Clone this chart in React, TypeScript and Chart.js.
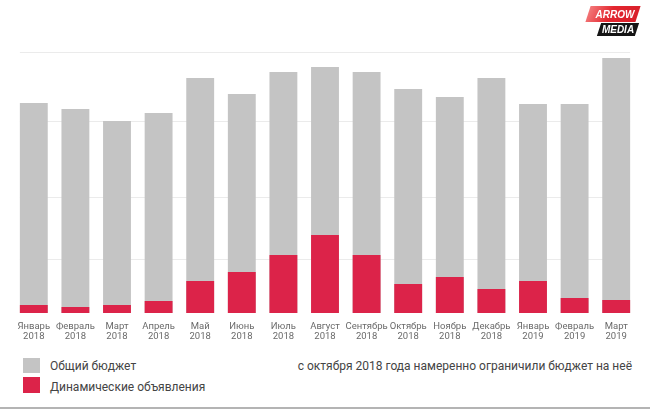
import React, { useEffect, useRef } from "react";
import { Chart, registerables } from "chart.js";

Chart.register(...registerables);

const months = [
  "Январь", "Февраль", "Март", "Апрель", "Май", "Июнь", "Июль", "Август",
  "Сентябрь", "Октябрь", "Ноябрь", "Декабрь", "Январь", "Февраль", "Март",
];
const years = [
  "2018", "2018", "2018", "2018", "2018", "2018", "2018", "2018",
  "2018", "2018", "2018", "2018", "2019", "2019", "2019",
];
const totalBudget = [210, 204, 192, 200, 235, 219, 241, 246, 241, 224, 216, 235, 209, 209, 255];
const dynamicAds = [8, 6, 8, 12, 32, 41, 58, 78, 58, 29, 36, 24, 32, 15, 13];
const gridValues = [54, 116, 192, 261];

const seriesNames = ["Общий бюджет", "Динамические объявления"];
const note = "с октября 2018 года намеренно ограничили бюджет на неё";

const GRAY = "#c4c4c4";
const RED = "#dc2349";
const FONT = "Roboto, 'Open Sans', sans-serif";

const gridPlugin = {
  id: "bgGrid",
  beforeDatasetsDraw(chart: any) {
    const { ctx } = chart;
    const y = chart.scales.y;
    const meta = chart.getDatasetMeta(0);
    const first = meta.data[0] as any;
    const last = meta.data[meta.data.length - 1] as any;
    const left = first.x - first.width / 2;
    const right = last.x + last.width / 2;
    ctx.save();
    ctx.strokeStyle = "#ebebeb";
    ctx.lineWidth = 1;
    gridValues.forEach((v) => {
      const py = Math.round(y.getPixelForValue(v)) + 0.5;
      ctx.beginPath();
      ctx.moveTo(left, py);
      ctx.lineTo(right, py);
      ctx.stroke();
    });
    ctx.restore();
  },
};

export default function App() {
  const ref = useRef<HTMLCanvasElement>(null);

  useEffect(() => {
    const labels = months.map((m, i) => [m, years[i]]);
    const chart = new Chart(ref.current!, {
      type: "bar",
      data: {
        labels,
        datasets: [
          {
            label: seriesNames[0],
            data: totalBudget,
            backgroundColor: GRAY,
            grouped: false,
            order: 2,
            barPercentage: 0.67,
            categoryPercentage: 1,
          } as any,
          {
            label: seriesNames[1],
            data: dynamicAds,
            backgroundColor: RED,
            grouped: false,
            order: 1,
            barPercentage: 0.67,
            categoryPercentage: 1,
          } as any,
        ],
      },
      options: {
        responsive: false,
        animation: false,
        layout: { padding: { left: 13, right: 13, top: 52, bottom: 0 } },
        plugins: { legend: { display: false }, tooltip: { enabled: false } },
        scales: {
          x: {
            grid: { display: false, drawTicks: false },
            border: { display: false },
            ticks: {
              color: "#6a6a6a",
              font: { family: FONT, size: 9.5, lineHeight: 1.1 },
              padding: 8,
              maxRotation: 0,
              autoSkip: false,
            },
            afterFit(scale: any) {
              scale.height = 37;
            },
          },
          y: {
            display: false,
            min: 0,
            max: 261,
          },
        },
      },
      plugins: [gridPlugin],
    });
    return () => chart.destroy();
  }, []);

  const legendText: React.CSSProperties = {
    position: "absolute",
    left: 50,
    fontFamily: FONT,
    fontSize: 12,
    color: "#444",
    lineHeight: "16px",
    whiteSpace: "nowrap",
  };

  return (
    <div
      style={{
        position: "fixed",
        left: 0,
        top: 0,
        width: 650,
        height: 410,
        background: "#fff",
        overflow: "hidden",
      }}
    >
      <canvas ref={ref} width={650} height={350} style={{ position: "absolute", left: 0, top: 0 }} />

      {/* logo */}
      <div
        style={{
          position: "absolute",
          left: 588,
          top: 6,
          width: 50,
          height: 16,
          transform: "skewX(-18deg)",
          background: "linear-gradient(100deg, #f3797a 0%, #e3262f 45%, #d81f2a 100%)",
        }}
      />
      <div
        style={{
          position: "absolute",
          left: 591,
          top: 7,
          width: 48,
          height: 15,
          fontFamily: "'Liberation Sans', Arial, sans-serif",
          fontWeight: 700,
          fontStyle: "italic",
          fontSize: 10,
          lineHeight: "15px",
          color: "#fff",
          textAlign: "center",
        }}
      >
        ARROW
      </div>
      <div
        style={{
          position: "absolute",
          left: 599,
          top: 23,
          width: 38,
          height: 13,
          transform: "skewX(-18deg)",
          background: "#151515",
        }}
      />
      <div
        style={{
          position: "absolute",
          left: 599,
          top: 23,
          width: 38,
          height: 13,
          fontFamily: "'Liberation Sans', Arial, sans-serif",
          fontWeight: 700,
          fontStyle: "italic",
          fontSize: 10,
          lineHeight: "13px",
          color: "#fff",
          textAlign: "center",
        }}
      >
        MEDIA
      </div>

      {/* legend */}
      <div style={{ position: "absolute", left: 23, top: 358, width: 17, height: 15, background: GRAY }} />
      <div style={{ ...legendText, top: 358 }}>{seriesNames[0]}</div>
      <div style={{ position: "absolute", left: 23, top: 377, width: 17, height: 16, background: RED }} />
      <div style={{ ...legendText, top: 379 }}>{seriesNames[1]}</div>
      <div style={{ ...legendText, left: "auto", right: 18, top: 358 }}>{note}</div>

      <div style={{ position: "absolute", left: 0, top: 407, width: 650, height: 2, background: "#b4b4b4" }} />
    </div>
  );
}
